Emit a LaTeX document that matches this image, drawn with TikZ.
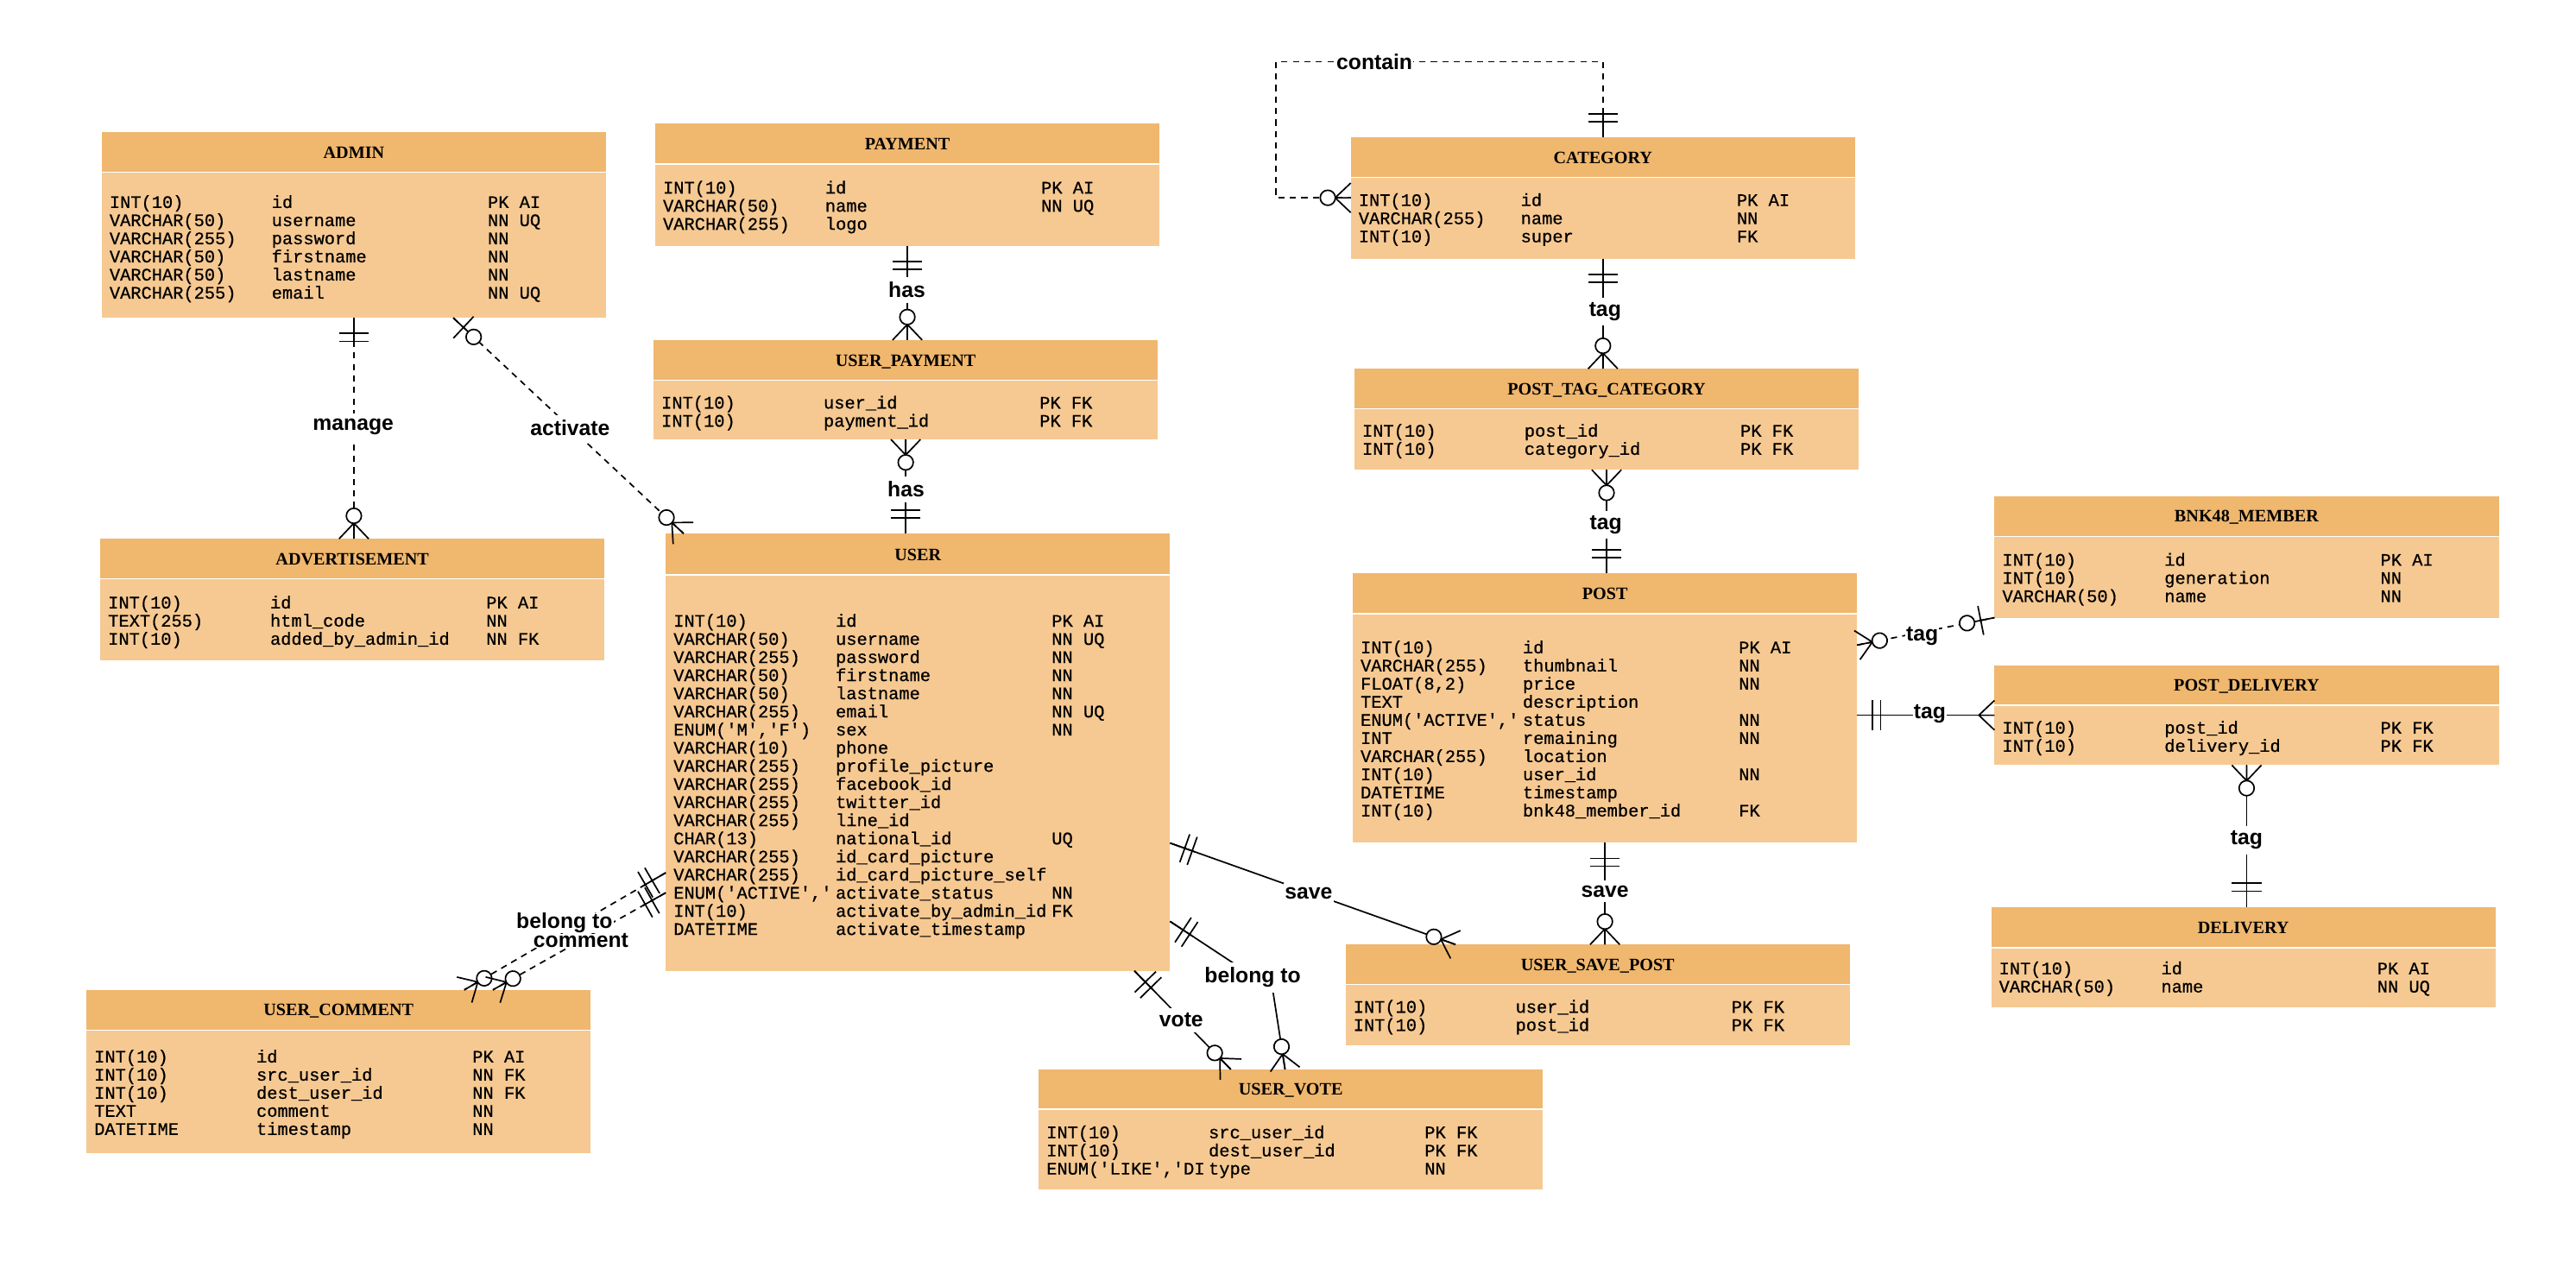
\documentclass[tikz,border=0pt]{standalone}
\usepackage{fontspec}
\setmainfont{Liberation Serif}
\setmonofont{Liberation Mono}[FakeBold=0.6]
\newfontfamily\erSans{Liberation Sans}
\usetikzlibrary{calc,fit,decorations.markings}
\definecolor{erHead}{RGB}{240,183,110}
\definecolor{erBody}{RGB}{246,201,146}

\newcommand\erRow[3]{#1&#2&#3\\}
\newcommand\ertable[8]{%
  \node[erhead, fit={(#3,#4) (#3+307,#5)}] (#1-h) {};
  \node[ertitle] (#1-t) at ($(#1-h.center)+(0,3.6)$) {#2};
  \node[erbody, fit={(#3,#5) (#3+307,#6)}] (#1-b) {};
  \draw[erSep] (#1-h.south west) -- (#1-h.south east);
  \node[erfield] (#1-f) at (#3+4.8,#7+3.1) {\begin{tabular}[t]{@{}p{49.35pt}@{}p{65.75pt}@{}l@{}}#8\end{tabular}};
  \node[erframe, fit=(#1-h)(#1-b)] (#1) {};
}
% markers, local x axis points outward from the entity when #1=1
\newcommand\erMandOne[1]{\draw[ermark] (0,0) -- (#1*16,0) (#1*9.5,-9) -- (#1*9.5,9) (#1*14.3,-9) -- (#1*14.3,9);}
\newcommand\erMany[1]{\draw[ermark] (#1*9.5,0) -- (0,-9) (#1*9.5,0) -- (0,9) (#1*9.5,0) -- (0,0);}
\newcommand\erZeroMany[1]{\erMany{#1}\draw[ermark,fill=white] (#1*14,0) circle[radius=2.3pt];}
\newcommand\erZeroOne[1]{\draw[ermark] (0,0) -- (#1*17,0) (#1*8.5,-9) -- (#1*8.5,9);\draw[ermark,fill=white] (#1*17,0) circle[radius=2.3pt];}

\tikzset{
  erhead/.style={fill=erHead, inner sep=0pt, outer sep=0pt},
  ertitle/.style={anchor=base, inner sep=0pt, outer sep=0pt, font=\bfseries\fontsize{5.3pt}{6pt}\selectfont},
  erbody/.style={fill=erBody, inner sep=0pt, outer sep=0pt},
  erframe/.style={inner sep=0pt, outer sep=0pt},
  erSep/.style={draw=white, line width=0.35pt},
  erfield/.style={anchor=base west, inner sep=0pt, outer sep=0pt, font=\ttfamily\fontsize{5.35pt}{5.475pt}\selectfont},
  erconn/.style={draw=black, line width=0.45pt},
  erdash/.style={dash pattern=on 1.9pt off 1.6pt},
  ermark/.style={solid, draw=black, line width=0.45pt},
  erlabel/.style={fill=white, inner xsep=0.3pt, inner ysep=1.5pt, font=\erSans\bfseries\fontsize{6.5pt}{7pt}\selectfont},
  erMk/.style 2 args={postaction={decorate,decoration={markings,mark=at position #1 with {#2}}}},
  mandone start/.style={erMk={0}{\erMandOne{1}}},
  mandone end/.style={erMk={1}{\erMandOne{-1}}},
  zeromany start/.style={erMk={0}{\erZeroMany{1}}},
  zeromany end/.style={erMk={1}{\erZeroMany{-1}}},
  zeroone start/.style={erMk={0}{\erZeroOne{1}}},
  zeroone end/.style={erMk={1}{\erZeroOne{-1}}},
  many end/.style={erMk={1}{\erMany{-1}}},
}

\begin{document}
\begin{tikzpicture}[x=0.5pt,y=-0.5pt]
\fill[white] (0,0) rectangle (1568,771.4);
\useasboundingbox (0,0) rectangle (1568,771.4);

\ertable{admin}{ADMIN}{61.9}{80.6}{105}{193.5}{123.5}{%
\erRow{INT(10)}{id}{PK AI}
\erRow{VARCHAR(50)}{username}{NN UQ}
\erRow{VARCHAR(255)}{password}{NN}
\erRow{VARCHAR(50)}{firstname}{NN}
\erRow{VARCHAR(50)}{lastname}{NN}
\erRow{VARCHAR(255)}{email}{NN UQ}}

\ertable{payment}{PAYMENT}{398.8}{75.3}{99.8}{149.8}{114.7}{%
\erRow{INT(10)}{id}{PK AI}
\erRow{VARCHAR(50)}{name}{NN UQ}
\erRow{VARCHAR(255)}{logo}{}}

\ertable{userpay}{USER\_PAYMENT}{397.8}{207}{231.6}{267.5}{245.6}{%
\erRow{INT(10)}{user\_id}{PK FK}
\erRow{INT(10)}{payment\_id}{PK FK}}

\ertable{category}{CATEGORY}{822.2}{83.6}{108}{157.6}{122.3}{%
\erRow{INT(10)}{id}{PK AI}
\erRow{VARCHAR(255)}{name}{NN}
\erRow{INT(10)}{super}{FK}}

\ertable{ptc}{POST\_TAG\_CATEGORY}{824.4}{224.5}{248.7}{286}{262.7}{%
\erRow{INT(10)}{post\_id}{PK FK}
\erRow{INT(10)}{category\_id}{PK FK}}

\ertable{adv}{ADVERTISEMENT}{61}{328}{352.4}{402}{367.3}{%
\erRow{INT(10)}{id}{PK AI}
\erRow{TEXT(255)}{html\_code}{NN}
\erRow{INT(10)}{added\_by\_admin\_id}{NN FK}}

\ertable{user}{USER}{405.2}{324.9}{350}{591}{378.4}{%
\erRow{INT(10)}{id}{PK AI}
\erRow{VARCHAR(50)}{username}{NN UQ}
\erRow{VARCHAR(255)}{password}{NN}
\erRow{VARCHAR(50)}{firstname}{NN}
\erRow{VARCHAR(50)}{lastname}{NN}
\erRow{VARCHAR(255)}{email}{NN UQ}
\erRow{ENUM('M','F')}{sex}{NN}
\erRow{VARCHAR(10)}{phone}{}
\erRow{VARCHAR(255)}{profile\_picture}{}
\erRow{VARCHAR(255)}{facebook\_id}{}
\erRow{VARCHAR(255)}{twitter\_id}{}
\erRow{VARCHAR(255)}{line\_id}{}
\erRow{CHAR(13)}{national\_id}{UQ}
\erRow{VARCHAR(255)}{id\_card\_picture}{}
\erRow{VARCHAR(255)}{id\_card\_picture\_self}{}
\erRow{ENUM('ACTIVE','}{activate\_status}{NN}
\erRow{INT(10)}{activate\_by\_admin\_id}{FK}
\erRow{DATETIME}{activate\_timestamp}{}}

\ertable{post}{POST}{823.4}{349}{373.6}{513}{394.6}{%
\erRow{INT(10)}{id}{PK AI}
\erRow{VARCHAR(255)}{thumbnail}{NN}
\erRow{FLOAT(8,2)}{price}{NN}
\erRow{TEXT}{description}{}
\erRow{ENUM('ACTIVE','}{status}{NN}
\erRow{INT}{remaining}{NN}
\erRow{VARCHAR(255)}{location}{}
\erRow{INT(10)}{user\_id}{NN}
\erRow{DATETIME}{timestamp}{}
\erRow{INT(10)}{bnk48\_member\_id}{FK}}

\ertable{bnk}{BNK48\_MEMBER}{1214}{302}{326.6}{376}{341.3}{%
\erRow{INT(10)}{id}{PK AI}
\erRow{INT(10)}{generation}{NN}
\erRow{VARCHAR(50)}{name}{NN}}

\ertable{pdel}{POST\_DELIVERY}{1214}{405}{429.3}{465.8}{443.5}{%
\erRow{INT(10)}{post\_id}{PK FK}
\erRow{INT(10)}{delivery\_id}{PK FK}}

\ertable{delivery}{DELIVERY}{1212}{552}{577}{613}{590}{%
\erRow{INT(10)}{id}{PK AI}
\erRow{VARCHAR(50)}{name}{NN UQ}}

\ertable{usp}{USER\_SAVE\_POST}{819}{575}{599.4}{636.4}{613.4}{%
\erRow{INT(10)}{user\_id}{PK FK}
\erRow{INT(10)}{post\_id}{PK FK}}

\ertable{ucomment}{USER\_COMMENT}{52.6}{602.6}{627}{702}{643.7}{%
\erRow{INT(10)}{id}{PK AI}
\erRow{INT(10)}{src\_user\_id}{NN FK}
\erRow{INT(10)}{dest\_user\_id}{NN FK}
\erRow{TEXT}{comment}{NN}
\erRow{DATETIME}{timestamp}{NN}}

\ertable{uvote}{USER\_VOTE}{632.2}{651}{675.3}{724}{689.8}{%
\erRow{INT(10)}{src\_user\_id}{PK FK}
\erRow{INT(10)}{dest\_user\_id}{PK FK}
\erRow{ENUM('LIKE','DI}{type}{NN}}

% connectors
\coordinate (bt-bend) at (774.6,602);
\draw[erconn, erdash, mandone start, zeromany end] (admin.south) -- (admin.south |- adv.north);
\draw[erconn, erdash, zeroone start, zeromany end] ($(admin.south west)+(214,0)$) -- ($(user.north west)+(11,0)$);
\draw[erconn, mandone start, zeromany end] (payment.south) -- (payment.south |- userpay.north);
\draw[erconn, zeromany start, mandone end] (userpay.south) -- (userpay.south |- user.north);
\draw[erconn, erdash, mandone start, zeromany end] (category.north) -- ++(0,-46) -| ($(category.north west)+(-45.4,36.8)$) -- ($(category.north west)+(0,36.8)$);
\draw[erconn, mandone start, zeromany end] (category.south) -- (category.south |- ptc.north);
\draw[erconn, zeromany start, mandone end] (ptc.south) -- (ptc.south |- post.north);
\draw[erconn, erdash, zeromany start, zeroone end] ($(post.north east)+(0,43.7)$) -- (bnk.south west);
\draw[erconn, mandone start, many end] (post.east |- pdel.west) -- (pdel.west);
\draw[erconn, zeromany start, mandone end] (pdel.south) -- (pdel.south |- delivery.north);
\draw[erconn, mandone start, zeromany end] (post.south) -- (post.south |- usp.north);
\draw[erconn, mandone start, zeromany end] ($(user.north east)+(0,188.3)$) -- ($(usp.north west)+(67,0)$);
\draw[erconn, mandone start, zeromany end] ($(user.north east)+(0,236)$) -- (bt-bend) -- ($(uvote.north west)+(150,0)$);
\draw[erconn, mandone start, zeromany end] ($(user.south east)+(-21.7,0)$) -- ($(uvote.north west)+(117,0)$);
\draw[erconn, erdash, mandone start, zeromany end] ($(user.north west)+(0,206.4)$) -- ($(ucomment.north west)+(230,0)$);
\draw[erconn, erdash, mandone start, zeromany end] ($(user.north west)+(0,218.6)$) -- ($(ucomment.north west)+(247.4,0)$);

% labels
\node[erlabel] (lb-manage) at (215,259.6) {manage};
\node[erlabel] (lb-activate) at (347,260.6) {activate};
\node[erlabel] (lb-has1) at (552,176.4) {has};
\node[erlabel] (lb-has2) at (551.5,298) {has};
\node[erlabel] (lb-contain) at (836.6,37.7) {contain};
\node[erlabel] (lb-tag1) at (977,189.7) {tag};
\node[erlabel] (lb-tag2) at (977.5,319.5) {tag};
\node[erlabel] (lb-tag3) at (1170,387.5) {tag};
\node[erlabel] (lb-tag4) at (1174.6,434.4) {tag};
\node[erlabel] (lb-tag5) at (1367.5,511.5) {tag};
\node[erlabel] (lb-save1) at (976.9,542.7) {save};
\node[erlabel] (lb-save2) at (796.6,544) {save};
\node[erlabel] (lb-belong1) at (762.5,595) {belong to};
\node[erlabel] (lb-vote) at (719,621) {vote};
\node[erlabel, inner ysep=0pt] (lb-belong2) at (343.6,561.8) {belong to};
\node[erlabel, inner ysep=0pt] (lb-comment) at (353.6,572.6) {comment};
\end{tikzpicture}
\end{document}
